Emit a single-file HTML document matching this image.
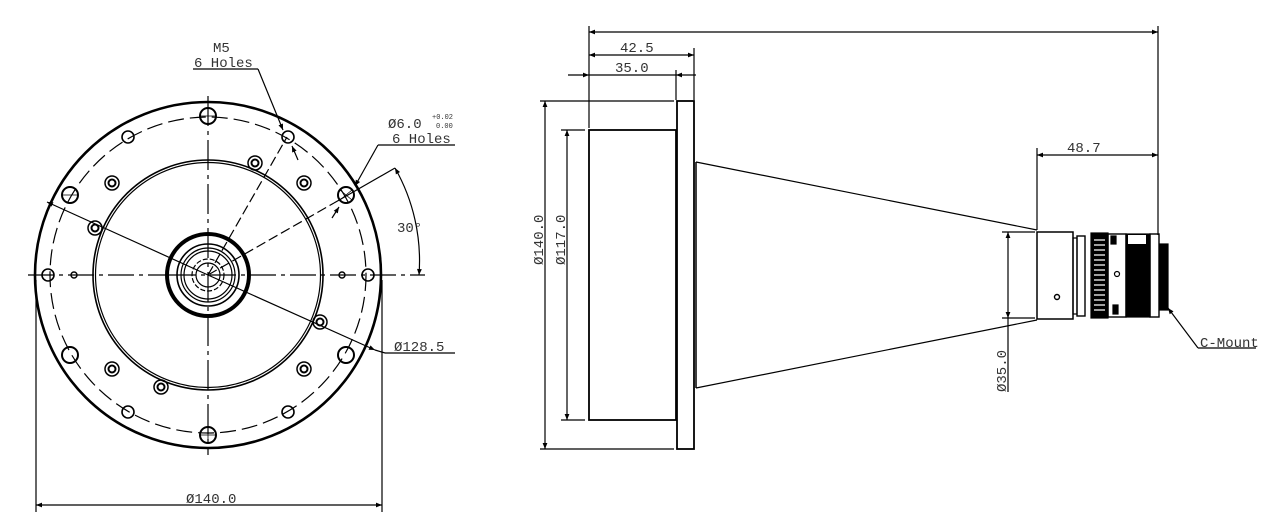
<!DOCTYPE html>
<html><head><meta charset="utf-8"><style>
html,body{margin:0;padding:0;background:#fff;}
svg{display:block;}
text{font-family:"Liberation Mono","DejaVu Sans Mono",monospace;fill:#333;}
</style></head><body>
<svg width="1280" height="525" viewBox="0 0 1280 525" xmlns="http://www.w3.org/2000/svg">
<defs>
<marker id="a" viewBox="0 0 10 10" refX="10" refY="5" markerWidth="9" markerHeight="6" orient="auto-start-reverse" markerUnits="userSpaceOnUse"><path d="M0,1 L10,5 L0,9 z" fill="#000"/></marker>
</defs>
<g stroke="#000" fill="none" stroke-width="1.2">
<!-- LEFT VIEW -->
<circle cx="208" cy="275" r="173" stroke-width="2.6"/>
<circle cx="208" cy="275" r="158" stroke-dasharray="16,6"/>
<circle cx="208" cy="275" r="115" stroke-width="1.6"/>
<circle cx="208" cy="275" r="112.5"/>
<circle cx="208" cy="275" r="41" stroke-width="4"/>
<circle cx="208" cy="275" r="31" stroke-width="1.6"/>
<circle cx="208" cy="275" r="27"/>
<circle cx="208" cy="275" r="24"/>
<circle cx="208" cy="275" r="16" stroke-dasharray="5,2"/>
<circle cx="208" cy="275" r="12"/>
<!-- center lines -->
<line x1="28" y1="275" x2="170" y2="275" stroke-dasharray="26,5,4,5"/>
<line x1="170" y1="275" x2="425" y2="275" stroke-dasharray="26,5,4,5"/>
<line x1="208" y1="96" x2="208" y2="455" stroke-dasharray="30,5,4,5"/>
<!-- large holes -->
<g stroke-width="2">
<circle cx="208" cy="116" r="8"/><circle cx="70" cy="195" r="8"/><circle cx="346" cy="195" r="8"/>
<circle cx="208" cy="435" r="8"/><circle cx="70" cy="355" r="8"/><circle cx="346" cy="355" r="8"/>
</g>
<path d="M200,116h16M208,108v16M62,195h16M200,435h16M208,427v16M340,190l12,10M352,190l-12,10" stroke-width="0.8"/>
<circle cx="48" cy="275" r="6" stroke-width="1.6"/><circle cx="368" cy="275" r="6" stroke-width="1.6"/>
<circle cx="74" cy="275" r="3" stroke-width="1.4"/><circle cx="342" cy="275" r="3" stroke-width="1.4"/>
<g stroke-width="1.6">
<circle cx="128" cy="137" r="6"/><circle cx="288" cy="137" r="6"/><circle cx="128" cy="412" r="6"/><circle cx="288" cy="412" r="6"/>
</g>
<g stroke-width="1.5">
<circle cx="255" cy="163" r="7"/><circle cx="112" cy="183" r="7"/><circle cx="304" cy="183" r="7"/><circle cx="95" cy="228" r="7"/>
<circle cx="320" cy="322" r="7"/><circle cx="112" cy="369" r="7"/><circle cx="304" cy="369" r="7"/><circle cx="161" cy="387" r="7"/>
<circle cx="255" cy="163" r="3.5" stroke-width="2"/><circle cx="112" cy="183" r="3.5" stroke-width="2"/><circle cx="304" cy="183" r="3.5" stroke-width="2"/><circle cx="95" cy="228" r="3.5" stroke-width="2"/>
<circle cx="320" cy="322" r="3.5" stroke-width="2"/><circle cx="112" cy="369" r="3.5" stroke-width="2"/><circle cx="304" cy="369" r="3.5" stroke-width="2"/><circle cx="161" cy="387" r="3.5" stroke-width="2"/>
</g>
<!-- Ø128.5 leader -->
<line x1="47" y1="202" x2="208" y2="275" marker-start="url(#a)"/>
<line x1="208" y1="275" x2="375" y2="350" marker-end="url(#a)"/>
<line x1="375" y1="350" x2="385" y2="353"/><line x1="385" y1="353" x2="455" y2="353"/>
<!-- M5 -->
<line x1="208" y1="275" x2="287" y2="137" stroke-dasharray="10,4"/>
<line x1="193" y1="69" x2="258" y2="69"/>
<line x1="258" y1="69" x2="283" y2="130" marker-end="url(#a)"/>
<line x1="298" y1="160" x2="292" y2="146" marker-end="url(#a)"/>
<!-- Ø6 -->
<line x1="208" y1="275" x2="334" y2="203" stroke-dasharray="10,4"/>
<line x1="334" y1="203" x2="395" y2="168"/>
<line x1="455" y1="145" x2="378" y2="145"/>
<line x1="378" y1="145" x2="355" y2="186" marker-end="url(#a)"/>
<line x1="332" y1="218" x2="339" y2="207" marker-end="url(#a)"/>
<path d="M395,168 A188,188 0 0 1 419,275" marker-start="url(#a)" marker-end="url(#a)"/>
<line x1="36" y1="280" x2="36" y2="512"/><line x1="382" y1="280" x2="382" y2="512"/>
<line x1="36" y1="505" x2="382" y2="505" marker-start="url(#a)" marker-end="url(#a)"/>

<!-- RIGHT VIEW -->
<rect x="677" y="101" width="17" height="348" stroke-width="1.8"/>
<rect x="589" y="130" width="87" height="290" stroke-width="1.8"/>
<line x1="696" y1="162" x2="696" y2="388" stroke-width="1.5"/>
<line x1="696" y1="162" x2="1037" y2="230"/>
<line x1="696" y1="388" x2="1037" y2="320"/>
<rect x="1037" y="232" width="36" height="87" stroke-width="1.5"/>
<circle cx="1057" cy="297" r="2.5" stroke-width="1.4"/>
<rect x="1077" y="236" width="8" height="80" stroke-width="1.4"/>
<rect x="1073" y="238" width="4" height="76"/>
<rect x="1091" y="233" width="17" height="85" fill="#000"/>
<path d="M1094,240h11M1094,245h11M1094,250h11M1094,255h11M1094,260h11M1094,265h11M1094,270h11M1094,275h11M1094,280h11M1094,285h11M1094,290h11M1094,295h11M1094,300h11M1094,305h11M1094,310h11" stroke="#fff" stroke-width="1.2"/>
<rect x="1108" y="234" width="18" height="83" stroke-width="1.4"/>
<rect x="1111" y="236" width="5" height="8" fill="#000"/><rect x="1113" y="305" width="5" height="9" fill="#000"/>
<circle cx="1117" cy="274" r="2.5"/>
<rect x="1126" y="234" width="24" height="83" fill="#000"/>
<rect x="1128" y="235" width="18" height="9" fill="#fff" stroke="none"/>
<rect x="1150" y="234" width="9" height="83" stroke-width="1.4"/>
<rect x="1160" y="244" width="8" height="66" fill="#000"/>
<line x1="1198" y1="348" x2="1168" y2="308" marker-end="url(#a)"/>
<line x1="1198" y1="348" x2="1256" y2="348"/>
<!-- dims right -->
<line x1="589" y1="26" x2="589" y2="128"/>
<line x1="1158" y1="26" x2="1158" y2="235"/>
<line x1="589" y1="32" x2="1158" y2="32" marker-start="url(#a)" marker-end="url(#a)"/>
<line x1="694" y1="48" x2="694" y2="100"/>
<line x1="589" y1="55" x2="694" y2="55" marker-start="url(#a)" marker-end="url(#a)"/>
<line x1="676" y1="70" x2="676" y2="100"/>
<line x1="568" y1="75" x2="589" y2="75" marker-end="url(#a)"/>
<line x1="676" y1="75" x2="696" y2="75" marker-start="url(#a)"/>
<line x1="589" y1="75" x2="676" y2="75"/>
<line x1="1037" y1="148" x2="1037" y2="230"/>
<line x1="1037" y1="155" x2="1158" y2="155" marker-start="url(#a)" marker-end="url(#a)"/>
<line x1="540" y1="101" x2="674" y2="101"/><line x1="540" y1="449" x2="674" y2="449"/>
<line x1="545" y1="101" x2="545" y2="449" marker-start="url(#a)" marker-end="url(#a)"/>
<line x1="561" y1="130" x2="585" y2="130"/><line x1="561" y1="420" x2="585" y2="420"/>
<line x1="567" y1="130" x2="567" y2="420" marker-start="url(#a)" marker-end="url(#a)"/>
<line x1="1002" y1="232" x2="1035" y2="232"/><line x1="1002" y1="318" x2="1035" y2="318"/>
<line x1="1008" y1="232" x2="1008" y2="318" marker-start="url(#a)" marker-end="url(#a)"/>
<line x1="1008" y1="318" x2="1008" y2="392"/>
</g>
<g font-size="14">
<text x="213" y="52">M5</text>
<text x="194" y="67">6 Holes</text>
<text x="388" y="128">Ø6.0</text>
<text x="432" y="119" font-size="7">+0.02</text>
<text x="436" y="128" font-size="7">0.00</text>
<text x="392" y="143">6 Holes</text>
<text x="397" y="232">30°</text>
<text x="394" y="351">Ø128.5</text>
<text x="186" y="503">Ø140.0</text>
<text x="620" y="52">42.5</text>
<text x="615" y="72">35.0</text>
<text x="1067" y="152">48.7</text>
<text x="1200" y="347">C-Mount</text>
<text transform="translate(543,265) rotate(-90)">Ø140.0</text>
<text transform="translate(565,265) rotate(-90)">Ø117.0</text>
<text transform="translate(1006,392) rotate(-90)">Ø35.0</text>
</g>
</svg>
</body></html>
